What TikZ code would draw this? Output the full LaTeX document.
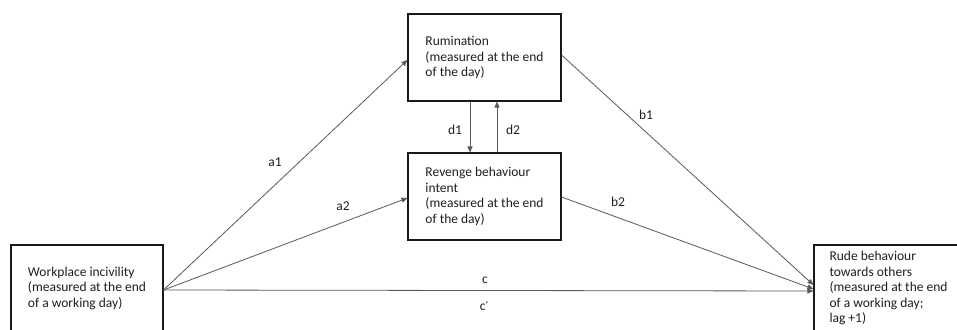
\documentclass[tikz,border=0pt]{standalone}
\usepackage{fontspec}
\setmainfont{Carlito}
\newfontfamily\primefont{DejaVu Sans}
\usetikzlibrary{arrows.meta}
\begin{document}
\begin{tikzpicture}[x=1pt,y=-1pt,
  box/.style={draw=black!90, line width=1.1pt, align=left, font=\fontsize{13.5}{15.5}\selectfont, inner sep=0pt, text=black!88},
  conn/.style={draw=black!65, line width=0.8pt, -{Triangle[length=6pt,width=5pt]}},
  lab/.style={font=\fontsize{13.5}{15.5}\selectfont, inner sep=0pt, text=black!88}]
\clip (0,0) rectangle (957,329);
\fill[white] (0,0) rectangle (957,329);
\node[box, minimum width=153pt, minimum height=87pt] (rum) at (484.5,57.5) {Rumination\\(measured at the end\\of the day)};
\node[box, minimum width=153pt, minimum height=87pt] (rev) at (484.5,196.5) {Revenge behaviour\\intent\\(measured at the end\\of the day)};
\node[box, minimum width=152pt, minimum height=86pt] (wi) at (87,288) {Workplace incivility\\(measured at the end\\of a working day)};
\node[box, minimum width=149pt, minimum height=86pt] (rb) at (888.5,288) {Rude behaviour\\towards others\\(measured at the end\\of a working day;\\lag +1)};
\draw[conn] ([yshift=-2pt]wi.east) -- ([yshift=-2.5pt]rum.west);
\draw[conn] ([yshift=-2pt]wi.east) -- ([yshift=-1.5pt]rev.west);
\draw[conn] ([yshift=-2pt]wi.east) -- ([yshift=-3pt]rb.west);
\draw[conn] ([yshift=2.5pt]rum.east) -- ([yshift=3pt]rb.west);
\draw[conn] ([yshift=-0.5pt]rev.east) -- ([yshift=-1pt]rb.west);
\draw[conn] ([xshift=-14.5pt]rum.south) -- ([xshift=-14.5pt]rev.north);
\draw[conn] ([xshift=12.5pt]rev.north) -- ([xshift=12.5pt]rum.south);
\node[lab] (la1) at (275,162) {a1};
\node[lab] (la2) at (343,206) {a2};
\node[lab] (lb1) at (646,115) {b1};
\node[lab] (lb2) at (618,202) {b2};
\node[lab] (lc) at (485,280) {c};
\node[lab] (lcp) at (484,306) {c{\primefont\fontsize{12}{14}\selectfont ′}};
\node[lab] (ld1) at (455,130) {d1};
\node[lab] (ld2) at (513,130) {d2};
\end{tikzpicture}
\end{document}
